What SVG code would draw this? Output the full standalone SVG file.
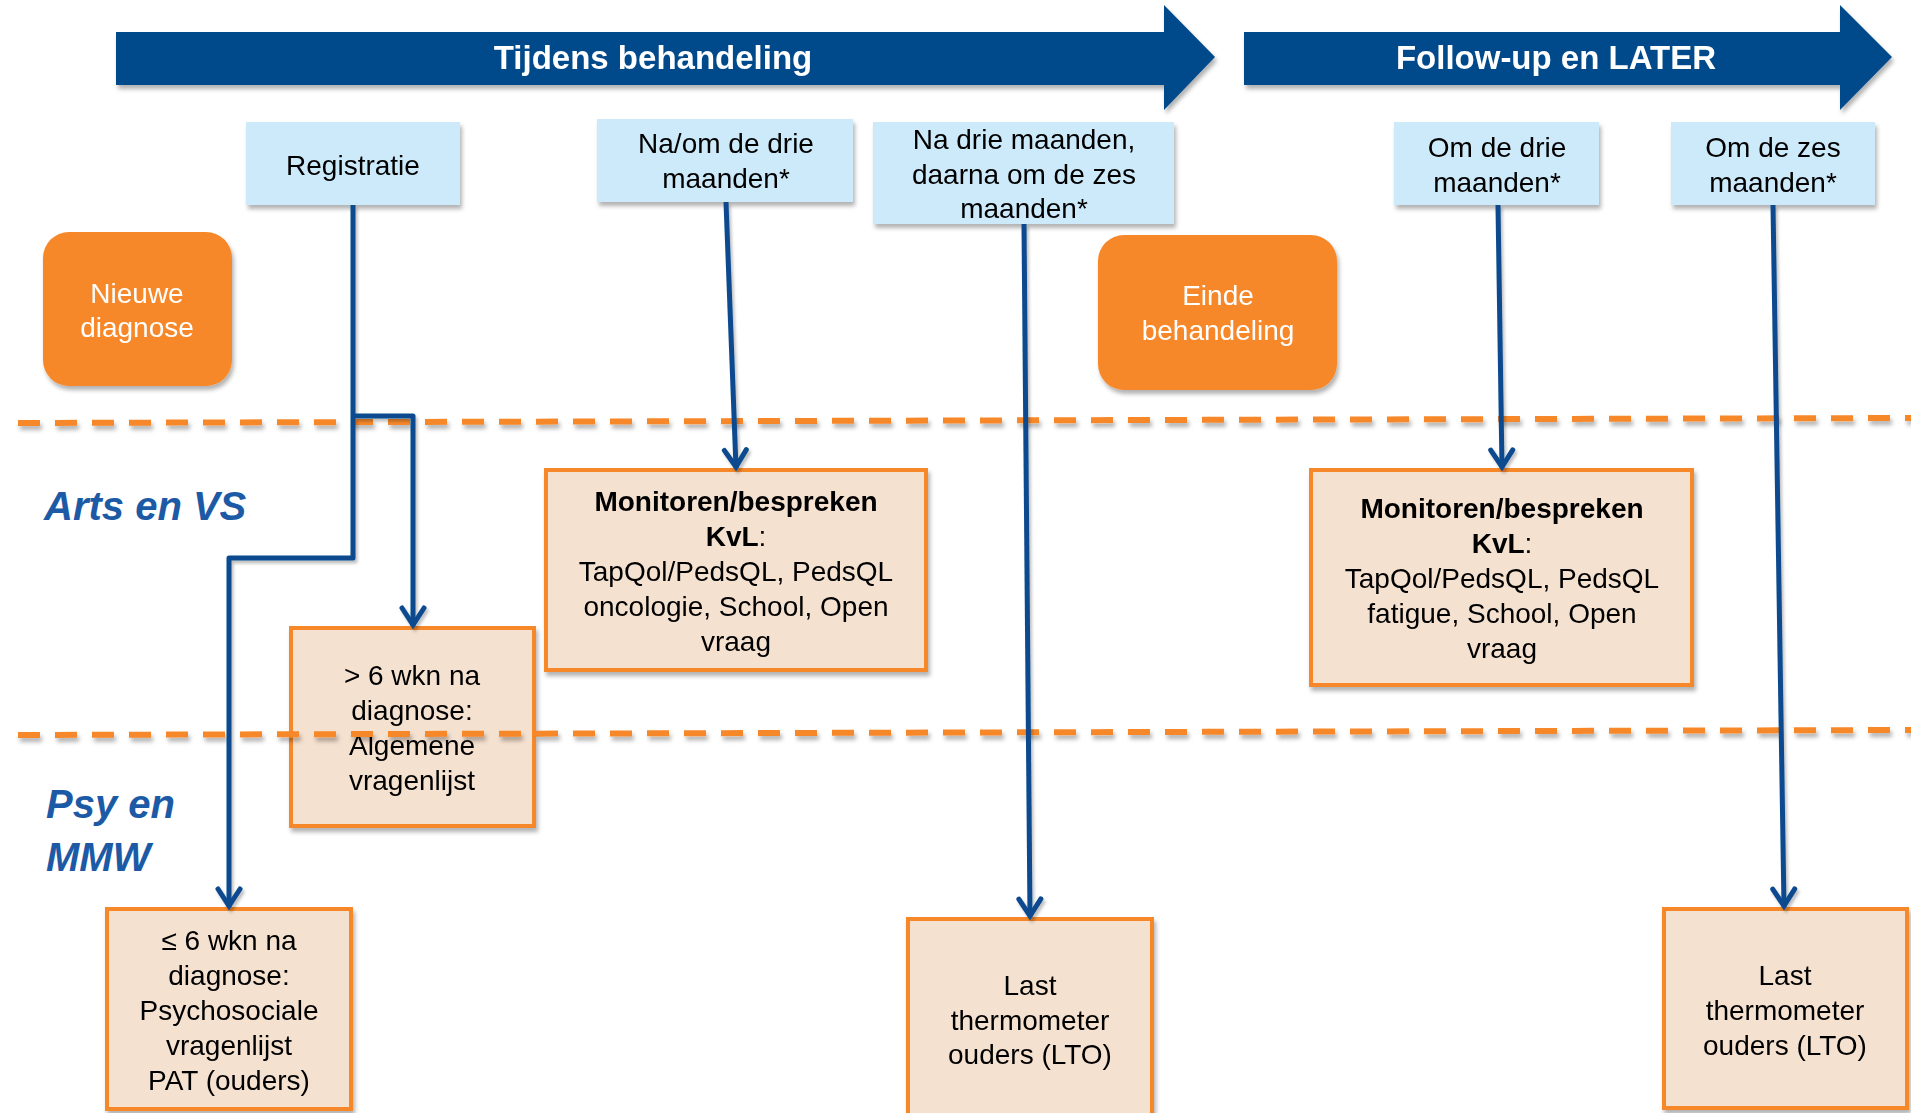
<svg xmlns="http://www.w3.org/2000/svg" width="1911" height="1113" viewBox="0 0 1911 1113">
<style>
.t{font-family:"Liberation Sans",Arial,sans-serif;font-size:28px;fill:#000;text-anchor:middle}
.b{font-weight:bold}
.w{fill:#fff}
.ban{font-family:"Liberation Sans",Arial,sans-serif;font-size:33px;font-weight:bold;fill:#fff;text-anchor:middle}
.lane{font-family:"Liberation Sans",Arial,sans-serif;font-size:40px;font-weight:bold;font-style:italic;fill:#1d5aa6}
.blue{fill:#cdeafb}
.or{fill:#f7882a}
.beige{fill:#f5e1d0;stroke:#f7882a;stroke-width:4}
.dash{stroke:#f7882a;stroke-width:6;stroke-dasharray:22 15;fill:none}
.con{stroke:#0b4a8e;stroke-width:5;fill:none;stroke-linejoin:round}
</style>
<defs>
<filter id="sh" x="-10%" y="-10%" width="125%" height="130%">
<feDropShadow dx="2" dy="4" stdDeviation="2" flood-color="#000" flood-opacity="0.3"/>
</filter>
<filter id="lsh" x="-20%" y="-5%" width="140%" height="110%">
<feDropShadow dx="2" dy="3" stdDeviation="1.5" flood-color="#000" flood-opacity="0.25"/>
</filter>
<marker id="arr" markerUnits="userSpaceOnUse" markerWidth="40" markerHeight="40" viewBox="-25 -20 30 40" refX="0" refY="0" orient="auto">
<path d="M-18,-11 L-1,0 L-18,11" fill="none" stroke="#0b4a8e" stroke-width="5" stroke-linecap="round" stroke-linejoin="miter"/>
</marker>
</defs>

<g id="banner-tijdens" filter="url(#sh)">
<path d="M116,32 H1164 V5 L1215,57 L1164,110 V85 H116 Z" fill="#034a8b"/>
<text class="ban" x="653" y="69">Tijdens behandeling</text>
</g>
<g id="banner-follow" filter="url(#sh)">
<path d="M1244,32 H1840 V5 L1892,57 L1840,110 V85 H1244 Z" fill="#034a8b"/>
<text class="ban" x="1556" y="69">Follow-up en LATER</text>
</g>

<g id="registratie" filter="url(#sh)">
<rect class="blue" x="246" y="122" width="214" height="83"/>
<text class="t" x="353" y="175">Registratie</text>
</g>
<g id="na-om-drie" filter="url(#sh)">
<rect class="blue" x="597" y="119" width="256" height="83"/>
<text class="t" x="726" y="153">Na/om de drie</text>
<text class="t" x="726" y="188">maanden*</text>
</g>
<g id="na-drie-daarna" filter="url(#sh)">
<rect class="blue" x="873" y="122" width="301" height="102"/>
<text class="t" x="1024" y="149">Na drie maanden,</text>
<text class="t" x="1024" y="184">daarna om de zes</text>
<text class="t" x="1024" y="218">maanden*</text>
</g>
<g id="om-drie" filter="url(#sh)">
<rect class="blue" x="1394" y="122" width="205" height="83"/>
<text class="t" x="1497" y="157">Om de drie</text>
<text class="t" x="1497" y="192">maanden*</text>
</g>
<g id="om-zes" filter="url(#sh)">
<rect class="blue" x="1671" y="122" width="204" height="83"/>
<text class="t" x="1773" y="157">Om de zes</text>
<text class="t" x="1773" y="192">maanden*</text>
</g>

<g id="nieuwe-diagnose" filter="url(#sh)">
<rect class="or" x="43" y="232" width="189" height="154" rx="26"/>
<text class="t w" x="137" y="303">Nieuwe</text>
<text class="t w" x="137" y="337">diagnose</text>
</g>
<g id="einde-behandeling" filter="url(#sh)">
<rect class="or" x="1098" y="235" width="239" height="155" rx="26"/>
<text class="t w" x="1218" y="305">Einde</text>
<text class="t w" x="1218" y="340">behandeling</text>
</g>

<g id="lane-labels">
<text class="lane" x="44" y="520">Arts en VS</text>
<text class="lane" x="46" y="818">Psy en</text>
<text class="lane" x="46" y="871">MMW</text>
</g>

<g id="monitoren-1" filter="url(#sh)">
<rect class="beige" x="546" y="470" width="380" height="200"/>
<text class="t b" x="736" y="511">Monitoren/bespreken</text>
<text class="t" x="736" y="546"><tspan class="b">KvL</tspan>:</text>
<text class="t" x="736" y="581">TapQol/PedsQL, PedsQL</text>
<text class="t" x="736" y="616">oncologie, School, Open</text>
<text class="t" x="736" y="651">vraag</text>
</g>
<g id="gt6wkn" filter="url(#sh)">
<rect class="beige" x="291" y="628" width="243" height="198"/>
<text class="t" x="412" y="685">&gt; 6 wkn na</text>
<text class="t" x="412" y="720">diagnose:</text>
<text class="t" x="412" y="755">Algemene</text>
<text class="t" x="412" y="790">vragenlijst</text>
</g>
<g id="le6wkn" filter="url(#sh)">
<rect class="beige" x="107" y="909" width="244" height="200"/>
<text class="t" x="229" y="950">≤ 6 wkn na</text>
<text class="t" x="229" y="985">diagnose:</text>
<text class="t" x="229" y="1020">Psychosociale</text>
<text class="t" x="229" y="1055">vragenlijst</text>
<text class="t" x="229" y="1090">PAT (ouders)</text>
</g>
<g id="last-1" filter="url(#sh)">
<rect class="beige" x="908" y="919" width="244" height="210"/>
<text class="t" x="1030" y="995">Last</text>
<text class="t" x="1030" y="1030">thermometer</text>
<text class="t" x="1030" y="1064">ouders (LTO)</text>
</g>
<g id="monitoren-2" filter="url(#sh)">
<rect class="beige" x="1311" y="470" width="381" height="215"/>
<text class="t b" x="1502" y="518">Monitoren/bespreken</text>
<text class="t" x="1502" y="553"><tspan class="b">KvL</tspan>:</text>
<text class="t" x="1502" y="588">TapQol/PedsQL, PedsQL</text>
<text class="t" x="1502" y="623">fatigue, School, Open</text>
<text class="t" x="1502" y="658">vraag</text>
</g>
<g id="last-2" filter="url(#sh)">
<rect class="beige" x="1664" y="909" width="243" height="199"/>
<text class="t" x="1785" y="985">Last</text>
<text class="t" x="1785" y="1020">thermometer</text>
<text class="t" x="1785" y="1055">ouders (LTO)</text>
</g>

<g id="lanes" filter="url(#sh)">
<path class="dash" d="M18,423 L1911,418"/>
<path class="dash" d="M18,735 L1911,730"/>
</g>

<g id="connectors" filter="url(#lsh)">
<path class="con" d="M353,205 V558 H229 V907" marker-end="url(#arr)"/>
<path class="con" d="M353,416 H413 V626" marker-end="url(#arr)"/>
<path class="con" d="M726,202 L736,468" marker-end="url(#arr)"/>
<path class="con" d="M1024,224 L1030,917" marker-end="url(#arr)"/>
<path class="con" d="M1498,205 L1502,468" marker-end="url(#arr)"/>
<path class="con" d="M1773,205 L1784,907" marker-end="url(#arr)"/>
</g>
</svg>
